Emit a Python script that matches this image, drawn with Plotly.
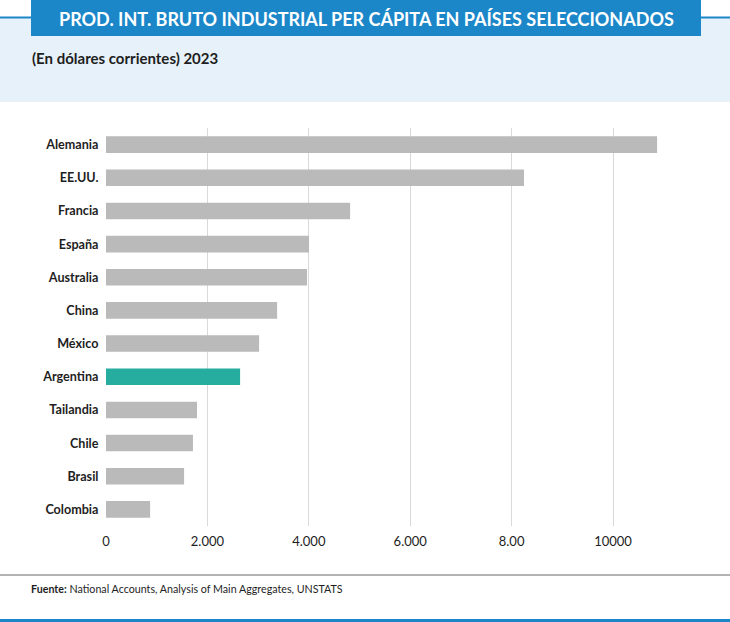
import plotly.graph_objects as go

paises = ["Alemania", "EE.UU.", "Francia", "España", "Australia", "China",
          "México", "Argentina", "Tailandia", "Chile", "Brasil", "Colombia"]
valores = [10870, 8245, 4815, 4005, 3965, 3375, 3020, 2645, 1795, 1715, 1540, 870]
destacado = "Argentina"
tick_vals = [0, 2000, 4000, 6000, 8000, 10000]
tick_text = ["0", "2.000", "4.000", "6.000", "8.00", "10000"]

W, H = 730, 622
L, R, T, B = 106, 700, 128, 526

GRIS = "#bababa"
TEAL = "#26ada0"
AZUL = "#1b87c9"
CELESTE = "#e6f1f9"


def px(x):
    return (x - L) / (R - L)


def py(y):
    return (B - y) / (B - T)


colores = [TEAL if p == destacado else GRIS for p in paises]

fig = go.Figure(go.Bar(
    x=valores, y=paises, orientation="h",
    marker=dict(color=colores, line=dict(width=0)),
    width=0.5, hoverinfo="x+y",
))

shapes = [
    dict(type="rect", xref="paper", yref="paper", x0=px(0), x1=px(W), y0=py(17), y1=py(102),
         fillcolor=CELESTE, line=dict(width=0), layer="below"),
    dict(type="line", xref="paper", yref="paper", x0=px(0), x1=px(W), y0=py(17.5), y1=py(17.5),
         line=dict(color=AZUL, width=2)),
    dict(type="rect", xref="paper", yref="paper", x0=px(31), x1=px(701), y0=py(-2), y1=py(36),
         fillcolor=AZUL, line=dict(width=0)),
    dict(type="line", xref="paper", yref="paper", x0=px(0), x1=px(W), y0=py(575), y1=py(575),
         line=dict(color="#9a9a9a", width=1.5)),
    dict(type="line", xref="paper", yref="paper", x0=px(0), x1=px(W), y0=py(620.5), y1=py(620.5),
         line=dict(color=AZUL, width=3)),
]

annotations = [
    dict(text="<b>PROD. INT. BRUTO INDUSTRIAL PER CÁPITA EN PAÍSES SELECCIONADOS</b>",
         xref="paper", yref="paper", x=px(366), y=py(18.5), xanchor="center", yanchor="middle",
         showarrow=False, font=dict(family="Lato", size=18, color="white")),
    dict(text="<b>(En dólares corrientes) 2023</b>",
         xref="paper", yref="paper", x=px(30), y=py(57.5), xanchor="left", yanchor="middle",
         showarrow=False, font=dict(family="Lato", size=15, color="#1e1e1e")),
    dict(text="<b>Fuente:</b> National Accounts, Analysis of Main Aggregates, UNSTATS",
         xref="paper", yref="paper", x=px(29), y=py(588), xanchor="left", yanchor="middle",
         showarrow=False, font=dict(family="Lato", size=10.7, color="#1e1e1e")),
]

fig.update_layout(
    width=W, height=H,
    margin=dict(l=L, r=W - R, t=T, b=H - B, pad=0),
    paper_bgcolor="white", plot_bgcolor="white",
    showlegend=False,
    shapes=shapes, annotations=annotations,
    xaxis=dict(range=[0, (R - L) / 50.7 * 1000], tickvals=tick_vals, ticktext=tick_text,
               showgrid=True, gridcolor="#d9d9d9", gridwidth=1, zeroline=False,
               showline=False, ticks="outside", ticklen=3, tickcolor="rgba(0,0,0,0)",
               tickfont=dict(family="Lato", size=13, color="#1e1e1e"), fixedrange=True),
    yaxis=dict(categoryorder="array", categoryarray=paises[::-1], range=[-0.5, 11.5],
               showgrid=False, zeroline=False, showline=False, ticks="outside", ticklen=4,
               tickcolor="rgba(0,0,0,0)",
               tickfont=dict(family="Lato", size=12.6, color="#1e1e1e", weight="bold"),
               fixedrange=True),
)

fig.write_html("out.html", config={"displayModeBar": False},
               post_script="document.body.style.margin='0';document.body.style.overflow='hidden';")
